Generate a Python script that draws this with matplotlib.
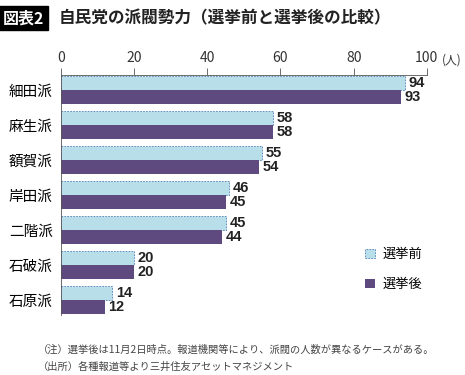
import matplotlib
matplotlib.use("Agg")
from matplotlib import pyplot as plt
import numpy as np

plt.rcParams['font.family'] = ['Noto Sans CJK JP', 'DejaVu Sans']

# data
factions = ["細田派", "麻生派", "額賀派", "岸田派", "二階派", "石破派", "石原派"]
before = [94, 58, 55, 46, 45, 20, 14]
after = [93, 58, 54, 45, 44, 20, 12]
ticks = [0, 20, 40, 60, 80, 100]

lightColor = "#b8dfe9"
darkColor = "#5e4a7e"

fig = plt.figure(figsize=(4.65, 3.75), dpi=100)
ax = fig.add_axes([0.131, 0.16, 0.787, 0.64])

y = np.arange(len(factions))
h = 0.4
ax.barh(y - h / 2, before, height=h, color=lightColor, edgecolor="#4f7fb5",
        linewidth=0.6, linestyle=(0, (2, 1.5)), label="選挙前")
ax.barh(y + h / 2, after, height=h, color=darkColor, label="選挙後")

for i in range(len(factions)):
    ax.text(before[i] + 1, y[i] - h / 2, str(before[i]), va="center", ha="left",
            fontsize=10.5, fontweight="bold", family=['Liberation Sans'], color="#222222")
    ax.text(after[i] + 1, y[i] + h / 2, str(after[i]), va="center", ha="left",
            fontsize=10.5, fontweight="bold", family=['Liberation Sans'], color="#222222")

ax.set_xlim(0, 100)
ax.set_ylim(len(factions) - 0.57, -0.43)
ax.xaxis.tick_top()
ax.set_xticks(ticks)
ax.tick_params(axis="x", direction="out", length=5, width=0.6, color="#555555",
               labelsize=10, pad=2, labelcolor="#333333")
ax.set_yticks(y)
ax.set_yticklabels(factions, fontsize=10.5)
ax.tick_params(axis="y", length=0, pad=6)
for s in ["right", "bottom"]:
    ax.spines[s].set_visible(False)
ax.spines["top"].set_linewidth(0.6)
ax.spines["left"].set_linewidth(0.6)
ax.spines["top"].set_color("#555555")
ax.spines["left"].set_color("#555555")

ax.text(1.042, 1.035, "(人)", transform=ax.transAxes, fontsize=8.5, va="bottom", ha="left",
        color="#333333")

leg = ax.legend(loc="lower right", bbox_to_anchor=(1.02, 0.05), frameon=False,
                fontsize=9.5, handlelength=0.7, handleheight=0.7, labelspacing=1.3,
                handletextpad=0.6)

# title
fig.text(0.005, 0.951, "図表2", fontsize=11.5, fontweight="bold", color="white",
         va="center", ha="left",
         bbox=dict(boxstyle="square,pad=0.25", facecolor="black", edgecolor="black"))
fig.text(0.125, 0.951, "自民党の派閥勢力（選挙前と選挙後の比較）", fontsize=12,
         fontweight="bold", va="center", ha="left", color="#222222")

# notes
fig.text(0.082, 0.067, "（注）選挙後は11月2日時点。報道機関等により、派閥の人数が異なるケースがある。",
         fontsize=7.4, va="center", ha="left", color="#444444")
fig.text(0.082, 0.022, "（出所）各種報道等より三井住友アセットマネジメント",
         fontsize=7.4, va="center", ha="left", color="#444444")

fig.savefig("out.png", dpi=100)
